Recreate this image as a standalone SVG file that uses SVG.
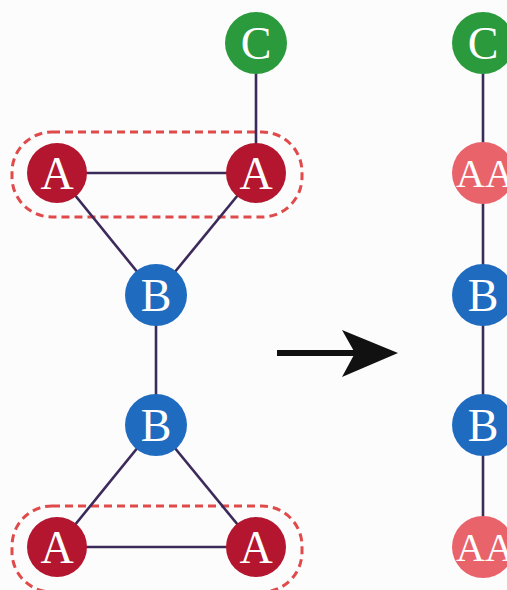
<svg xmlns="http://www.w3.org/2000/svg" width="507" height="590" viewBox="0 0 507 590">
<style>
.e{stroke:#3b2a5a;stroke-width:2.6;fill:none}
.g{fill:none;stroke:#e04a4a;stroke-width:3;stroke-dasharray:8 5}
.t{font-family:"Liberation Serif","Times New Roman",serif;fill:#fff;text-anchor:middle;font-size:46px}
.t2{font-family:"Liberation Serif","Times New Roman",serif;fill:#fff;text-anchor:middle;font-size:40px}
.c{fill:#2a9a3c}.a{fill:#b3162e}.b{fill:#1f6bbf}.p{fill:#e9636b}
</style>
<rect width="507" height="590" fill="#fcfcfc"/>
<rect class="g" x="12" y="132" width="290" height="85" rx="40"/>
<rect class="g" x="12" y="506" width="290" height="86" rx="40"/>
<g id="connectors">
<line class="e" x1="256" y1="43" x2="256" y2="173"/>
<line class="e" x1="57" y1="173" x2="256" y2="173"/>
<line class="e" x1="57" y1="173" x2="156" y2="295"/>
<line class="e" x1="256" y1="173" x2="156" y2="295"/>
<line class="e" x1="156" y1="295" x2="156" y2="425"/>
<line class="e" x1="156" y1="425" x2="57" y2="547"/>
<line class="e" x1="156" y1="425" x2="256" y2="547"/>
<line class="e" x1="57" y1="547" x2="256" y2="547"/>
<line class="e" x1="483" y1="43" x2="483" y2="547"/>
</g>
<g id="arrow">
<line x1="277" y1="353" x2="360" y2="353" stroke="#111" stroke-width="6"/>
<path d="M398 353 L342 330 L355 353 L342 377 Z" fill="#111"/>
</g>
<g id="C1"><circle class="c" cx="256" cy="43" r="31"/><text class="t" x="256" y="59">C</text></g>
<g id="A1"><circle class="a" cx="57" cy="173" r="30"/><text class="t" x="57" y="189">A</text></g>
<g id="A2"><circle class="a" cx="256" cy="173" r="30"/><text class="t" x="256" y="189">A</text></g>
<g id="B1"><circle class="b" cx="156" cy="295" r="31"/><text class="t" x="156" y="311">B</text></g>
<g id="B2"><circle class="b" cx="156" cy="425" r="31"/><text class="t" x="156" y="441">B</text></g>
<g id="A3"><circle class="a" cx="57" cy="547" r="30"/><text class="t" x="57" y="563">A</text></g>
<g id="A4"><circle class="a" cx="256" cy="547" r="30"/><text class="t" x="256" y="563">A</text></g>
<g id="C2"><circle class="c" cx="483" cy="43" r="31"/><text class="t" x="483" y="59">C</text></g>
<g id="AA1"><circle class="p" cx="483" cy="173" r="31"/><text class="t2" x="485" y="187">AA</text></g>
<g id="B3"><circle class="b" cx="483" cy="295" r="31"/><text class="t" x="483" y="311">B</text></g>
<g id="B4"><circle class="b" cx="483" cy="425" r="31"/><text class="t" x="483" y="441">B</text></g>
<g id="AA2"><circle class="p" cx="483" cy="547" r="31"/><text class="t2" x="485" y="561">AA</text></g>
</svg>
